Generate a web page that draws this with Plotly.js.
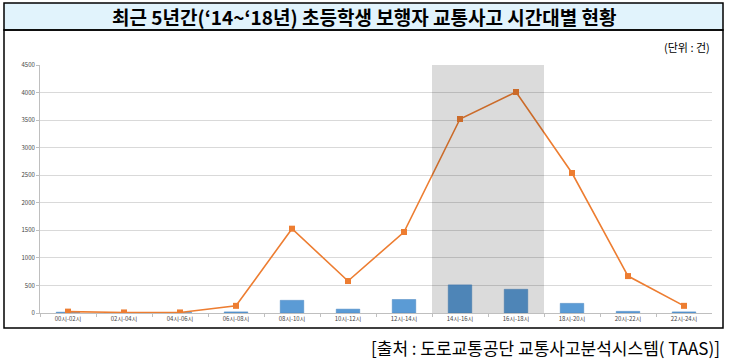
<!DOCTYPE html>
<html>
<head>
<meta charset="utf-8">
<script src="https://cdn.plot.ly/plotly-3.0.1.min.js"></script>
<style>html,body{margin:0;padding:0;background:#fff;}#chart{width:729px;height:361px;}</style>
</head>
<body>
<div id="chart"></div>
<script>
const categories = ["00시-02시","02시-04시","04시-06시","06시-08시","08시-10시","10시-12시","12시-14시","14시-16시","16시-18시","18시-20시","20시-22시","22시-24시"];
const barValues = [15, 5, 8, 20, 230, 70, 245, 510, 430, 175, 30, 20];
const lineValues = [25, 10, 10, 130, 1530, 580, 1470, 3520, 4010, 2540, 670, 130];
const yTicks = [0, 500, 1000, 1500, 2000, 2500, 3000, 3500, 4000, 4500];
const titleText = "최근 5년간(‘14~‘18년) 초등학생 보행자 교통사고 시간대별 현황";
const unitText = "(단위 : 건)";
const sourceText = "[출처 : 도로교통공단 교통사고분석시스템( TAAS)]";
const highlightFrom = "14시-16시";
const highlightTo = "16시-18시";

const W = 729, H = 361;
const px = x => x / W;
const py = y => 1 - y / H;

const hi0 = categories.indexOf(highlightFrom) - 0.5;
const hi1 = categories.indexOf(highlightTo) + 0.5;

const traces = [
  {type: "bar", x: categories, y: barValues, marker: {color: "#5b9bd5", line: {color: "#4a86c0", width: 0.5}}, hoverinfo: "skip"},
  {type: "scatter", mode: "lines+markers", x: categories, y: lineValues,
   line: {color: "#ed7d31", width: 1.6}, marker: {symbol: "square", size: 6, color: "#ed7d31"}, hoverinfo: "skip"}
];

const layout = {
  width: W, height: H,
  margin: {l: 0, r: 0, t: 0, b: 0},
  paper_bgcolor: "#ffffff", plot_bgcolor: "rgba(0,0,0,0)",
  showlegend: false,
  bargap: 0.58,
  font: {family: "Noto Sans CJK KR, Noto Sans, sans-serif"},
  xaxis: {
    domain: [px(40), px(712)],
    type: "category",
    range: [-0.5, categories.length - 0.5],
    automargin: false,
    tickfont: {size: 6, color: "#444"},
    showline: true, linecolor: "#bfbfbf", linewidth: 1,
    ticks: "outside", ticklen: 3, tickcolor: "#bfbfbf", tickson: "boundaries",
    showgrid: false, fixedrange: true
  },
  yaxis: {
    domain: [py(313), py(65)],
    range: [0, 4500],
    automargin: false,
    tickvals: yTicks, ticktext: yTicks.map(String),
    tickfont: {size: 6, color: "#444"},
    showline: true, linecolor: "#bfbfbf", linewidth: 1,
    ticks: "outside", ticklen: 3, tickcolor: "#bfbfbf",
    gridcolor: "#d9d9d9", gridwidth: 1, zeroline: false, fixedrange: true
  },
  shapes: [
    {type: "rect", xref: "paper", yref: "paper", x0: px(4), x1: px(723), y0: py(30), y1: py(3),
     fillcolor: "#e1f3fc", line: {color: "#000", width: 1.5}, layer: "below"},
    {type: "rect", xref: "paper", yref: "paper", x0: px(4), x1: px(723), y0: py(328), y1: py(30),
     fillcolor: "rgba(0,0,0,0)", line: {color: "#000", width: 1.5}, layer: "below"},
    {type: "rect", xref: "x", yref: "y", x0: hi0, x1: hi1, y0: 0, y1: 4500,
     fillcolor: "rgba(0,0,0,0.14)", line: {width: 0}, layer: "above"}
  ],
  annotations: [
    {xref: "paper", yref: "paper", x: px(364), y: py(17), text: "<b>" + titleText + "</b>", showarrow: false,
     xanchor: "center", yanchor: "middle", font: {size: 19, color: "#000", family: "Noto Sans CJK KR"}},
    {xref: "paper", yref: "paper", x: px(712), y: py(47), text: unitText, showarrow: false,
     xanchor: "right", yanchor: "middle", font: {size: 11, color: "#000", family: "Noto Sans CJK KR"}},
    {xref: "paper", yref: "paper", x: px(722), y: py(347), text: sourceText, showarrow: false,
     xanchor: "right", yanchor: "middle", font: {size: 17, color: "#000", family: "Noto Sans CJK KR"}}
  ]
};

Plotly.newPlot("chart", traces, layout, {staticPlot: true, displayModeBar: false});
</script>
</body>
</html>
